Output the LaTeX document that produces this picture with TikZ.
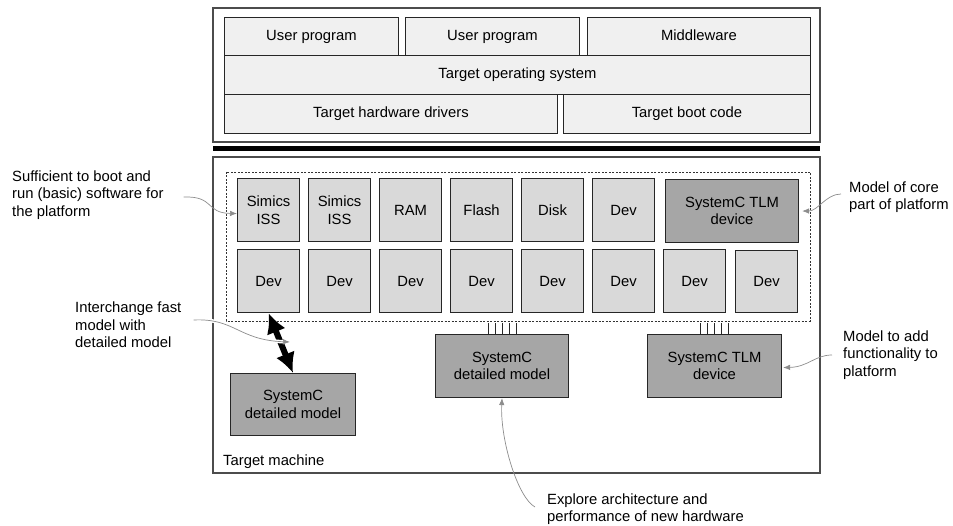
\documentclass[tikz,border=0pt]{standalone}
\usepackage{fontspec}
\setmainfont{Liberation Sans}
\usetikzlibrary{arrows.meta}

\begin{document}
\begin{tikzpicture}[x=1pt, y=-1pt,
    font=\fontsize{14.8}{17.5}\selectfont,
    frame/.style={draw=black!70, line width=1.4pt},
    swbox/.style={draw=black!85, fill=black!6, line width=0.9pt, inner sep=0pt, anchor=north west,
        text height=10.5pt, text depth=3pt},
    devbox/.style={draw=black!85, fill=black!15, line width=1.1pt, inner sep=0pt, anchor=north west,
        align=center, minimum width=62pt, minimum height=63pt},
    tlmbox/.style={devbox, fill=black!35},
    note/.style={align=left, anchor=west, inner sep=0pt},
    notearrow/.style={draw=black!45, line width=0.7pt, -{Latex[length=7pt,width=5.5pt]}}]
    \useasboundingbox (0,0) rectangle (953,526);

    % Software stack
    \draw[frame] (213,8) rectangle (820,142);
    \node[swbox, minimum width=174pt, minimum height=38pt] (user1) at (224,17) {User program};
    \node[swbox, minimum width=174pt, minimum height=38pt] (user2) at (405,17) {User program};
    \node[swbox, minimum width=223pt, minimum height=38pt] (middle) at (587,17) {Middleware};
    \node[swbox, minimum width=586pt, minimum height=39pt] (targetos) at (224,55) {Target operating system};
    \node[swbox, minimum width=333pt, minimum height=39pt] (drivers) at (224,94) {Target hardware drivers};
    \node[swbox, minimum width=247pt, minimum height=39pt] (bootcode) at (563,94) {Target boot code};

    \draw[line width=5pt] (213,148.5) -- (820,148.5);

    % Target machine
    \draw[frame] (213,157) rectangle (820,473);
    \draw[black!80, line width=0.8pt, dash pattern=on 2pt off 1.5pt] (226,172) rectangle (810,321);
    \node[anchor=base west, inner sep=0pt] (machine) at (223,465) {Target machine};

    \foreach \lbl [count=\i] in {{Simics\\ISS}, {Simics\\ISS}, RAM, Flash, Disk, Dev}
        \node[devbox] (top\i) at ({237+71*(\i-1)},178) {\lbl};
    \node[tlmbox, minimum width=133pt] (coretlm) at (665,179) {SystemC TLM\\device};

    \foreach \i in {1,...,6}
        \node[devbox] (dev\i) at ({237+71*(\i-1)},249) {Dev};
    \node[devbox] (dev7) at (663,249) {Dev};
    \node[devbox, minimum height=62pt] (dev8) at (735,250) {Dev};

    \node[tlmbox, minimum width=125pt, minimum height=62pt] (scleft) at (230,373) {SystemC\\detailed model};
    \node[tlmbox, minimum width=133pt] (scmid) at (435,334) {SystemC\\detailed model};
    \node[tlmbox, minimum width=134pt] (scright) at (647,334) {SystemC TLM\\device};

    % bus pins
    \foreach \dx in {-14,-7,0,7,14} {
        \draw[black!85, line width=0.9pt] ([xshift=\dx pt]scmid.north) -- ++(0,-11);
        \draw[black!85, line width=0.9pt] ([xshift=\dx pt]scright.north) -- ++(0,-11);
    }

    \draw[line width=6pt, {Latex[length=20pt,width=20pt]}-{Latex[length=20pt,width=20pt]}] (dev1.south) -- (scleft.north);

    % Notes
    \node[note] (bootnote) at (12,195) {Sufficient to boot and\\run (basic) software for\\the platform};
    \node[note] (swapnote) at (75,325) {Interchange fast\\model with\\detailed model};
    \node[note] (corenote) at (849,197) {Model of core\\part of platform};
    \node[note] (addnote) at (843,355) {Model to add\\functionality to\\platform};
    \node[note] (explnote) at (547,509) {Explore architecture and\\performance of new hardware};
    \coordinate (swaptip) at (290,342);

    \draw[notearrow] ([xshift=20pt,yshift=-2pt]bootnote.east) .. controls (215,196) and (205,213) .. ([yshift=-3.5pt]top1.west);
    \draw[notearrow, preaction={draw=white, line width=3.5pt}] ([xshift=12pt,yshift=5pt]swapnote.east) .. controls (235,318) and (238,340) .. (swaptip);
    \draw[notearrow] ([xshift=-8pt,yshift=3pt]corenote.west) .. controls (826,194) and (818,211) .. ([xshift=3pt]coretlm.east);
    \draw[notearrow] ([xshift=-11pt]addnote.west) .. controls (815,355) and (808,367) .. ([xshift=1pt,yshift=-1.5pt]scright.east);
    \draw[notearrow] ([xshift=-12pt,yshift=2pt]explnote.west) .. controls (518,498) and (500,440) .. (scmid.south);
\end{tikzpicture}
\end{document}
